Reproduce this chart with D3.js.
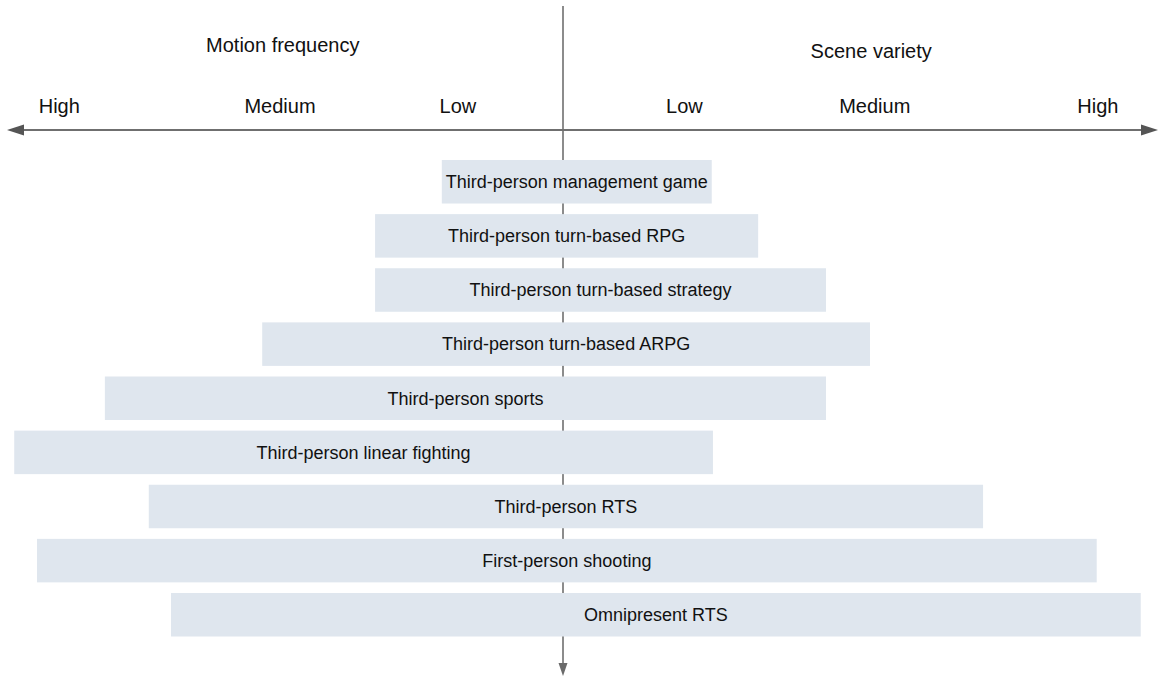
<!DOCTYPE html>
<html>
    <head>
        <meta charset="utf-8">
        <title>Motion frequency vs scene variety</title>
        <script src="https://d3js.org/d3.v7.min.js"></script>
        <style>
            body {
                margin: 0;
                background-color: #FFFFFF;
                font-family: 'Liberation Sans', Arial, sans-serif;
            }
            svg {
                display: block;
            }
        </style>
    </head>
    <body>
        <svg id="chart"></svg>
        <script>
            // game genres, top to bottom
            const genres = [
                "Third-person management game",
                "Third-person turn-based RPG",
                "Third-person turn-based strategy",
                "Third-person turn-based ARPG",
                "Third-person sports",
                "Third-person linear fighting",
                "Third-person RTS",
                "First-person shooting",
                "Omnipresent RTS"
            ];
            // extent to the left (motion frequency) and right (scene variety), 0..100
            const motionFrequency = [21.8, 33.8, 33.8, 54.1, 82.4, 98.7, 74.5, 94.6, 70.5];
            const sceneVariety = [25.0, 32.8, 44.2, 51.6, 44.2, 25.2, 70.6, 89.7, 97.1];

            const levelNames = ["Low", "Medium", "High"];
            const motionLevels = [18.9, 50.9, 90.6];
            const sceneLevels = [20.4, 52.4, 89.9];

            const width = 1161;
            const height = 678;

            const svg = d3.select("#chart")
                .attr("width", width)
                .attr("height", height);

            // left half = motion frequency (negative), right half = scene variety
            const x = d3.scaleLinear()
                .domain([-100, 0, 100])
                .range([7, 563, 1158]);

            const y = d3.scaleBand()
                .domain(genres)
                .range([160, 636.5])
                .paddingInner(0.196)
                .paddingOuter(0);

            const axisColor = "#6f6f6f";

            // vertical axis sits behind the bars
            svg.append("line")
                .attr("x1", x(0)).attr("x2", x(0))
                .attr("y1", 6).attr("y2", 664)
                .attr("stroke", "#8c8c8c")
                .attr("stroke-width", 2);

            svg.append("path")
                .attr("d", `M${x(0) - 4.5},663 L${x(0) + 4.5},663 L${x(0)},676 Z`)
                .attr("fill", "#6a6a6a");

            // horizontal double arrow
            svg.append("line")
                .attr("x1", x(-100) + 14).attr("x2", x(100) - 14)
                .attr("y1", 130).attr("y2", 130)
                .attr("stroke", axisColor)
                .attr("stroke-width", 2);

            svg.append("path")
                .attr("d", `M${x(-100)},130 L${x(-100) + 17},124.5 L${x(-100) + 17},135.5 Z`)
                .attr("fill", "#555");

            svg.append("path")
                .attr("d", `M${x(100)},130 L${x(100) - 17},124.5 L${x(100) - 17},135.5 Z`)
                .attr("fill", "#555");

            // axis titles
            svg.append("text")
                .attr("x", x(-50.4))
                .attr("y", 52)
                .attr("text-anchor", "middle")
                .style("font-size", "20px")
                .attr("fill", "#111")
                .text("Motion frequency");

            svg.append("text")
                .attr("x", x(51.8))
                .attr("y", 58)
                .attr("text-anchor", "middle")
                .style("font-size", "20px")
                .attr("fill", "#111")
                .text("Scene variety");

            // level labels
            svg.selectAll(".motion-level")
                .data(levelNames)
                .enter()
                .append("text")
                .attr("class", "motion-level")
                .attr("x", (d, i) => x(-motionLevels[i]))
                .attr("y", 113)
                .attr("text-anchor", "middle")
                .style("font-size", "20px")
                .attr("fill", "#111")
                .text(d => d);

            svg.selectAll(".scene-level")
                .data(levelNames)
                .enter()
                .append("text")
                .attr("class", "scene-level")
                .attr("x", (d, i) => x(sceneLevels[i]))
                .attr("y", 113)
                .attr("text-anchor", "middle")
                .style("font-size", "20px")
                .attr("fill", "#111")
                .text(d => d);

            // bars
            const bars = svg.selectAll(".bar")
                .data(genres)
                .enter()
                .append("g")
                .attr("class", "bar");

            bars.append("rect")
                .attr("x", (d, i) => x(-motionFrequency[i]))
                .attr("y", d => y(d))
                .attr("width", (d, i) => x(sceneVariety[i]) - x(-motionFrequency[i]))
                .attr("height", y.bandwidth())
                .attr("fill", "#dfe6ee");

            bars.append("text")
                .attr("x", (d, i) => (x(-motionFrequency[i]) + x(sceneVariety[i])) / 2)
                .attr("y", d => y(d) + y.bandwidth() / 2)
                .attr("dy", "0.35em")
                .attr("text-anchor", "middle")
                .style("font-size", "18px")
                .attr("fill", "#111")
                .text(d => d);
        </script>
    </body>
</html>
